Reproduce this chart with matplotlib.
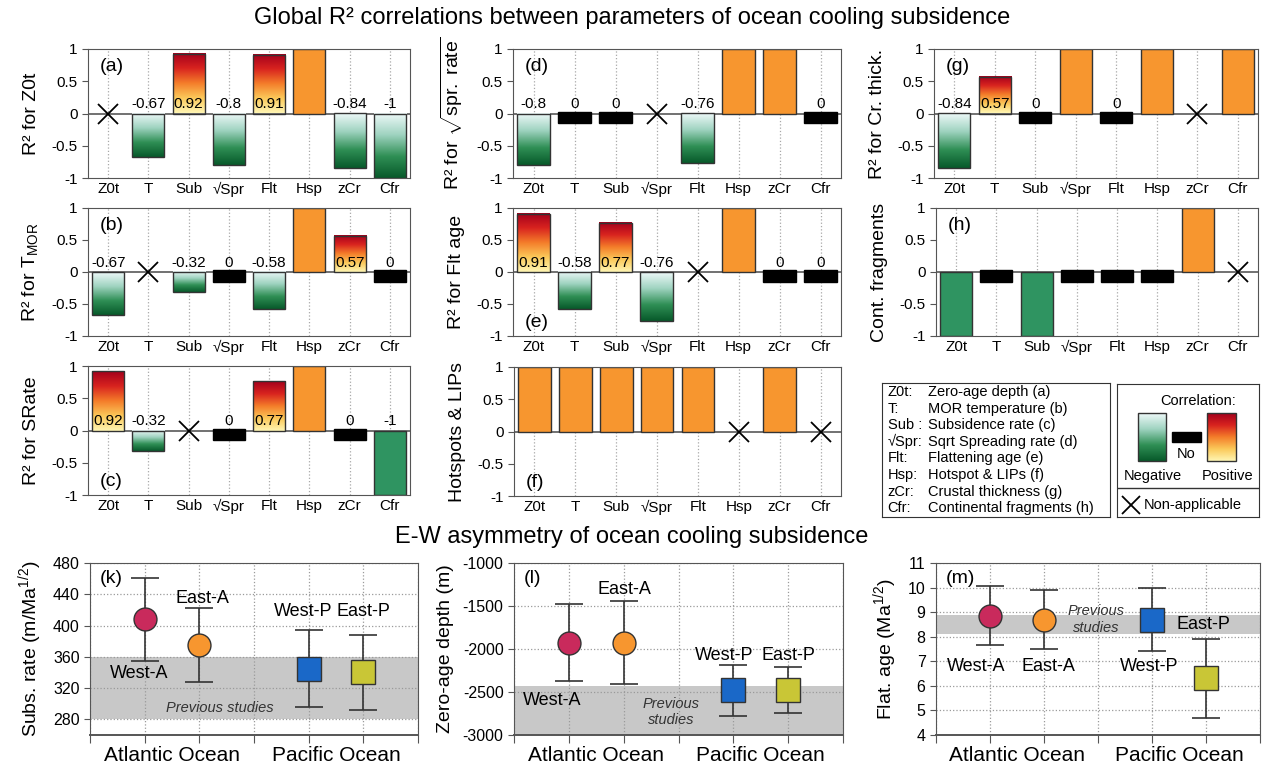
import numpy as np
import matplotlib
matplotlib.use("Agg")
import matplotlib.pyplot as plt
from matplotlib.colors import LinearSegmentedColormap
from matplotlib.patches import Rectangle

plt.rcParams["font.family"] = ["Liberation Sans", "DejaVu Sans"]
plt.rcParams["axes.unicode_minus"] = False
plt.rcParams["mathtext.fontset"] = "custom"
plt.rcParams["mathtext.rm"] = "Liberation Sans"
plt.rcParams["mathtext.it"] = "Liberation Sans:italic"

# ---- data -------------------------------------------------------------
PARAMS = ["Z0t", "T", "Sub", "√Spr", "Flt", "Hsp", "zCr", "Cfr"]
nan = np.nan
# kind: g = graded correlation, s = solid (categorical), z = no correlation, x = n/a
R2_A = [nan, -0.67, 0.92, -0.8, 0.91, 1, -0.84, -1]
KIND_A = "xggggsgg"
R2_B = [-0.67, nan, -0.32, 0, -0.58, 1, 0.57, 0]
KIND_B = "gxgzgsgz"
R2_C = [0.92, -0.32, nan, 0, 0.77, 1, 0, -1]
KIND_C = "ggxzgszs"
R2_D = [-0.8, 0, 0, nan, -0.76, 1, 1, 0]
KIND_D = "gzzxgssz"
R2_E = [0.91, -0.58, 0.77, -0.76, nan, 1, 0, 0]
KIND_E = "ggggxszz"
R2_F = [1, 1, 1, 1, 1, nan, 1, nan]
KIND_F = "sssssxsx"
R2_G = [-0.84, 0.57, 0, 1, 0, 1, nan, 1]
KIND_G = "ggzszsxs"
R2_H = [-1, 0, -1, 0, 0, 0, 1, nan]
KIND_H = "szszzzsx"

LEGEND_KEYS = ["Z0t:", "T:", "Sub :", "√Spr:", "Flt:", "Hsp:", "zCr:", "Cfr:"]
LEGEND_DESC = ["Zero-age depth (a)", "MOR temperature (b)", "Subsidence rate (c)",
               "Sqrt Spreading rate (d)", "Flattening age (e)", "Hotspot & LIPs (f)",
               "Crustal thickness (g)", "Continental fragments (h)"]

OCEANS = ["Atlantic Ocean", "Pacific Ocean"]
REGIONS = ["West-A", "East-A", "West-P", "East-P"]
REGION_OCEAN = [0, 0, 1, 1]
SUB_MEAN = [408, 375, 345, 340]
SUB_ERR = [53, 47, 49, 48]
SUB_PREV = (280, 360)
Z0_MEAN = [-1925, -1925, -2480, -2480]
Z0_ERR = [450, 485, 295, 265]
Z0_PREV = (-3000, -2430)
FLT_MEAN = [8.85, 8.7, 8.7, 6.3]
FLT_ERR = [1.2, 1.2, 1.3, 1.6]
FLT_PREV = (8.1, 8.9)

# ---- style ------------------------------------------------------------
ORANGE = "#f7962f"
GREEN = "#2f9461"
EDGE = "#333333"
NEG = LinearSegmentedColormap.from_list("neg", ["#07592a", "#2f8f55", "#9fd3c0", "#eef9f9"])
POS = LinearSegmentedColormap.from_list("pos", ["#fff6b4", "#fbc95a", "#f47d2a", "#d8231f", "#a3001c"])
GRAD = np.linspace(0, 1, 256).reshape(-1, 1)
BW = 0.8
REG_COLORS = ["#c92a5c", "#f7962f", "#1a68c8", "#c9c636"]
REG_MARKERS = ["o", "o", "s", "s"]

W, H = 1264, 770
fig = plt.figure(figsize=(W / 100, H / 100), dpi=100)


def box(l, t, r, b):
    return fig.add_axes([l / W, 1 - b / H, (r - l) / W, (b - t) / H])


def grad_rect(ax, x0, x1, y0, y1, cmap, z=2):
    ax.imshow(GRAD, extent=[x0, x1, y0, y1], origin="lower", cmap=cmap,
              aspect="auto", zorder=z, interpolation="bilinear")


def bar_panel(ax, vals, kinds, ylabel, letter, top=True, labels=True):
    xs = np.arange(len(PARAMS))
    for xi in xs:
        ax.axvline(xi, color="#a8a8a8", ls=":", lw=0.9, zorder=0)
    ax.axhline(0, color="#666666", lw=1.3, zorder=1)
    for xi, v, k in zip(xs, vals, kinds):
        x0 = xi - BW / 2
        if k == "x":
            ax.plot(xi, 0, marker="x", ms=14, mew=1.3, color="k", zorder=5)
            continue
        if k == "z":
            ax.add_patch(Rectangle((x0, -0.15), BW, 0.18, fc="black", ec="black", zorder=3))
        elif k == "s":
            ax.add_patch(Rectangle((x0, min(0, v)), BW, abs(v), fc=ORANGE if v > 0 else GREEN,
                                   ec=EDGE, lw=1, zorder=2))
        else:
            grad_rect(ax, x0, x0 + BW, min(0, v), max(0, v), POS if v > 0 else NEG)
            ax.add_patch(Rectangle((x0, min(0, v)), BW, abs(v), fill=False, ec=EDGE, lw=1, zorder=3))
        if labels and not (k == "s" and v > 0):
            ax.text(xi, 0.035, f"{v:g}", ha="center", va="bottom", fontsize=11, zorder=6)
    ax.set_xlim(-0.5, 7.5)
    ax.set_ylim(-1, 1)
    ax.set_xticks(xs)
    ax.set_xticklabels(PARAMS, fontsize=11)
    ax.tick_params(axis="x", length=0, pad=3)
    ax.set_yticks([-1, -0.5, 0, 0.5, 1])
    ax.set_yticklabels(["-1", "-0.5", "0", "0.5", "1"], fontsize=11)
    ax.tick_params(axis="y", length=4, color="#555555")
    ax.set_ylabel(ylabel, fontsize=14, labelpad=8)
    for s in ax.spines.values():
        s.set_color("#555555")
    if top:
        ax.text(0.035, 0.93, letter, transform=ax.transAxes, va="top", fontsize=14)
    else:
        ax.text(0.035, 0.04, letter, transform=ax.transAxes, va="bottom", fontsize=14)


panels = [
    ((88, 49, 410, 178), R2_A, KIND_A, "R² for Z0t", "(a)", True, True),
    ((88, 208, 410, 336), R2_B, KIND_B, r"R² for T$_{\mathrm{MOR}}$", "(b)", True, True),
    ((88, 366, 410, 495), R2_C, KIND_C, "R² for SRate", "(c)", False, True),
    ((513, 49, 841, 178), R2_D, KIND_D, r"R² for $\sqrt{\mathrm{spr.\ rate}}$", "(d)", True, True),
    ((513, 208, 841, 336), R2_E, KIND_E, "R² for Flt age", "(e)", False, True),
    ((514, 367, 841, 496), R2_F, KIND_F, "Hotspots & LIPs", "(f)", False, True),
    ((934, 49, 1258, 178), R2_G, KIND_G, "R² for Cr. thick.", "(g)", True, True),
    ((936, 208, 1258, 336), R2_H, KIND_H, "Cont. fragments", "(h)", True, False),
]
for pos, vals, kinds, ylab, let, top, lab in panels:
    bar_panel(box(*pos), vals, kinds, ylab, let, top, lab)

# ---- legend: parameter keys ------------------------------------------
lg = box(882, 383, 1110, 517)
lg.set_xlim(0, 1); lg.set_ylim(0, 1)
lg.set_xticks([]); lg.set_yticks([])
for s in lg.spines.values():
    s.set_color(EDGE)
for i, (k, d) in enumerate(zip(LEGEND_KEYS, LEGEND_DESC)):
    y = 1 - (9 + i * 16.6) / 134
    lg.text(0.025, y, k, va="center", fontsize=10.5)
    lg.text(0.2, y, d, va="center", fontsize=10.5)

# ---- legend: correlation colours -------------------------------------
lc = box(1117, 384, 1259, 517)
lc.set_xticks([]); lc.set_yticks([])
for s in lc.spines.values():
    s.set_color(EDGE)
grad_rect(lc, 21, 49, 56, 104, NEG)
lc.add_patch(Rectangle((21, 56), 28, 48, fill=False, ec=EDGE, lw=1, zorder=3))
grad_rect(lc, 90, 119, 56, 104, POS)
lc.add_patch(Rectangle((90, 56), 29, 48, fill=False, ec=EDGE, lw=1, zorder=3))
lc.add_patch(Rectangle((55, 75), 29, 10, fc="black", ec="black", zorder=3))
lc.set_xlim(0, 142); lc.set_ylim(0, 133)
lc.text(81, 116, "Correlation:", ha="center", va="center", fontsize=10.5)
lc.text(69, 63, "No", ha="center", va="center", fontsize=10.5)
lc.text(36, 41, "Negative", ha="center", va="center", fontsize=10.5)
lc.text(111, 41, "Positive", ha="center", va="center", fontsize=10.5)
lc.axhline(29, color=EDGE, lw=1)
lc.plot(14, 12, marker="x", ms=13, mew=1.3, color="k")
lc.text(27, 12, "Non-applicable", va="center", fontsize=10.5)

# ---- E-W asymmetry panels --------------------------------------------
EW_X = [3 * o + (i % 2) + 1 for i, o in enumerate(REGION_OCEAN)]


def ew_panel(ax, means, errs, band, ylim, yticks, ylabel, letter, notes):
    ax.axhspan(*band, color="#c8c8c8", lw=0, zorder=0.3)
    ax.errorbar(EW_X, means, yerr=errs, fmt="none", ecolor=EDGE, elinewidth=1.2,
                capsize=10, capthick=1.2, zorder=3)
    for x, m, c, mk in zip(EW_X, means, REG_COLORS, REG_MARKERS):
        ax.plot(x, m, marker=mk, ms=17.5 if mk == "s" else 16.5, mfc=c, mec=EDGE,
                mew=1, zorder=4)
    for txt, (x, y), kw in notes:
        ax.text(x, y, txt, ha="center", va="center", zorder=5, **kw)
    ax.set_xlim(0, 6)
    ax.set_ylim(*ylim)
    ax.set_xticks(range(7))
    ax.set_xticklabels([])
    ax.set_xticks([1.5, 4.5], minor=True)
    ax.set_xticklabels(OCEANS, minor=True, fontsize=15)
    ax.tick_params(axis="x", which="major", length=6, direction="out", color="#555555")
    ax.tick_params(axis="x", which="minor", length=0, pad=8)
    ax.set_yticks(yticks)
    ax.set_yticklabels([f"{t:g}" for t in yticks], fontsize=11.5)
    ax.tick_params(axis="y", length=4, color="#555555")
    ax.grid(True, which="major", ls=":", color="#9a9a9a", lw=0.9)
    ax.set_axisbelow(True)
    ax.set_ylabel(ylabel, fontsize=14, labelpad=6)
    for s in ax.spines.values():
        s.set_color("#555555")
    ax.spines["bottom"].set_linewidth(1.4)
    ax.text(0.03, 0.96, letter, transform=ax.transAxes, va="top", fontsize=14)


REG_KW = dict(fontsize=13)
PREV_KW = dict(fontsize=10.5, style="italic", color="#333333")

ew_panel(box(90, 563, 418, 735), SUB_MEAN, SUB_ERR, SUB_PREV, (260, 480),
         [280, 320, 360, 400, 440, 480], "Subs. rate (m/Ma$^{1/2}$)", "(k)",
         [("West-A", (0.9, 339), REG_KW), ("East-A", (2.05, 434), REG_KW),
          ("West-P", (3.9, 418), REG_KW), ("East-P", (5.0, 418), REG_KW),
          ("Previous studies", (2.37, 294), PREV_KW)])
ew_panel(box(514, 563, 843, 735), Z0_MEAN, Z0_ERR, Z0_PREV, (-3000, -1000),
         [-3000, -2500, -2000, -1500, -1000], "Zero-age depth (m)", "(l)",
         [("West-A", (0.69, -2600), REG_KW), ("East-A", (2.02, -1310), REG_KW),
          ("West-P", (3.83, -2075), REG_KW), ("East-P", (5.0, -2075), REG_KW),
          ("Previous\nstudies", (2.86, -2728), PREV_KW)])
ew_panel(box(936, 563, 1260, 735), FLT_MEAN, FLT_ERR, FLT_PREV, (4, 11),
         [4, 5, 6, 7, 8, 9, 10, 11], "Flat. age (Ma$^{1/2}$)", "(m)",
         [("West-A", (0.75, 6.8), REG_KW), ("East-A", (2.09, 6.8), REG_KW),
          ("West-P", (3.94, 6.8), REG_KW), ("East-P", (4.95, 8.5), REG_KW),
          ("Previous\nstudies", (2.96, 8.7), PREV_KW)])

fig.text(0.5, 1 - 18 / H, "Global R² correlations between parameters of ocean cooling subsidence",
         ha="center", va="center", fontsize=17)
fig.text(0.5, 1 - 537 / H, "E-W asymmetry of ocean cooling subsidence",
         ha="center", va="center", fontsize=17)

fig.savefig("out.png", dpi=100)
